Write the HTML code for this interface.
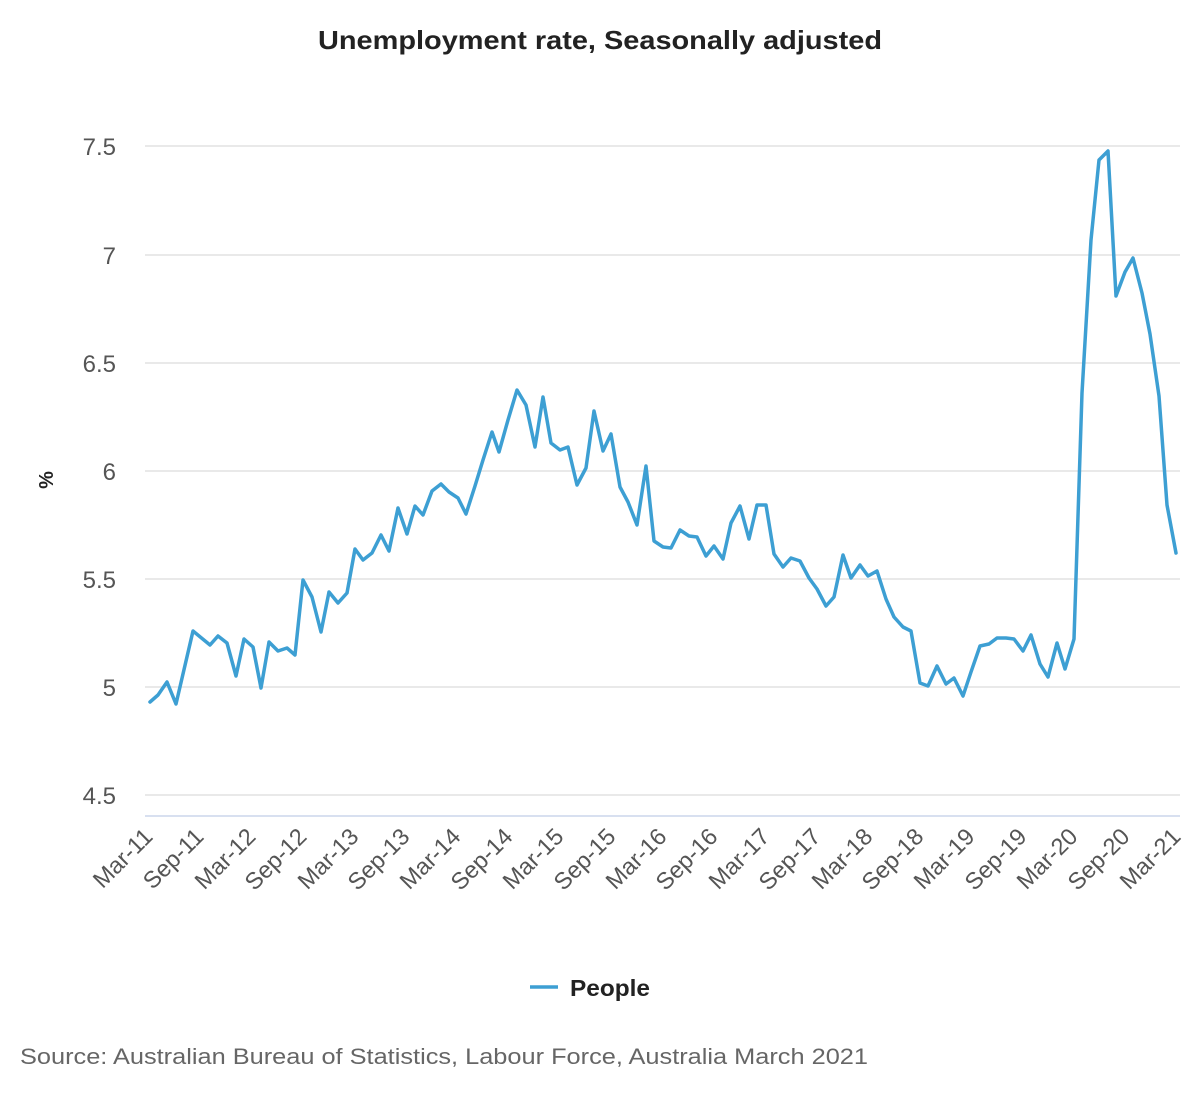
<!DOCTYPE html>
<html><head><meta charset="utf-8"><style>
body{margin:0;background:#fff;}
svg{display:block;font-family:"Liberation Sans",sans-serif;}
</style></head><body>
<svg width="1200" height="1100" viewBox="0 0 1200 1100">
<rect width="1200" height="1100" fill="#fff"/>
<text x="600" y="49" text-anchor="middle" font-size="26" font-weight="bold" fill="#222" textLength="564" lengthAdjust="spacingAndGlyphs">Unemployment rate, Seasonally adjusted</text>
<g stroke="#e2e2e2" stroke-width="1.5">
<line x1="145" y1="146" x2="1180" y2="146"/>
<line x1="145" y1="255" x2="1180" y2="255"/>
<line x1="145" y1="363" x2="1180" y2="363"/>
<line x1="145" y1="471" x2="1180" y2="471"/>
<line x1="145" y1="579" x2="1180" y2="579"/>
<line x1="145" y1="687" x2="1180" y2="687"/>
<line x1="145" y1="795" x2="1180" y2="795"/>
</g>
<line x1="145" y1="816" x2="1180" y2="816" stroke="#ccd6eb" stroke-width="1.5"/>
<g font-size="24" fill="#555" text-anchor="end">
<text x="116" y="155">7.5</text>
<text x="116" y="264">7</text>
<text x="116" y="372">6.5</text>
<text x="116" y="480">6</text>
<text x="116" y="588">5.5</text>
<text x="116" y="696">5</text>
<text x="116" y="804">4.5</text>
</g>
<text transform="translate(53,480) rotate(-90)" text-anchor="middle" font-size="20" font-weight="bold" fill="#222">%</text>
<g font-size="23.5" fill="#555" text-anchor="end">
<text transform="translate(154,838) rotate(-45)">Mar-11</text>
<text transform="translate(205,838) rotate(-45)">Sep-11</text>
<text transform="translate(257,838) rotate(-45)">Mar-12</text>
<text transform="translate(308,838) rotate(-45)">Sep-12</text>
<text transform="translate(360,838) rotate(-45)">Mar-13</text>
<text transform="translate(411,838) rotate(-45)">Sep-13</text>
<text transform="translate(462,838) rotate(-45)">Mar-14</text>
<text transform="translate(514,838) rotate(-45)">Sep-14</text>
<text transform="translate(565,838) rotate(-45)">Mar-15</text>
<text transform="translate(617,838) rotate(-45)">Sep-15</text>
<text transform="translate(668,838) rotate(-45)">Mar-16</text>
<text transform="translate(719,838) rotate(-45)">Sep-16</text>
<text transform="translate(771,838) rotate(-45)">Mar-17</text>
<text transform="translate(822,838) rotate(-45)">Sep-17</text>
<text transform="translate(874,838) rotate(-45)">Mar-18</text>
<text transform="translate(925,838) rotate(-45)">Sep-18</text>
<text transform="translate(976,838) rotate(-45)">Mar-19</text>
<text transform="translate(1028,838) rotate(-45)">Sep-19</text>
<text transform="translate(1079,838) rotate(-45)">Mar-20</text>
<text transform="translate(1131,838) rotate(-45)">Sep-20</text>
<text transform="translate(1182,838) rotate(-45)">Mar-21</text>
</g>
<polyline fill="none" stroke="#3d9fd3" stroke-width="3.5" stroke-linejoin="round" stroke-linecap="round" points="150,702 158,695 167,682 176,704 193,631 210,645 218,636 227,643 236,676 244,639 253,647 261,688 269,642 278,651 287,648 295,655 303,580 312,597 321,632 329,592 338,603 347,593 355,549 363,560 372,553 381,535 389,551 398,508 407,534 415,506 423,515 432,491 441,484 449,492 458,498 466,514 475,486 483,460 492,432 499,452 508,420 517,390 526,405 535,447 543,397 551,443 560,450 568,447 577,485 586,468 594,411 603,451 611,434 620,487 628,502 637,525 646,466 654,541 663,547 671,548 680,530 689,536 697,537 706,556 714,546 723,559 731,523 740,506 749,539 757,505 766,505 774,554 783,567 791,558 800,561 809,578 817,589 826,606 834,597 843,555 851,578 860,565 868,576 877,571 886,599 894,617 903,627 911,631 920,683 928,686 937,666 946,684 954,678 963,696 971,672 980,646 989,644 997,638 1006,638 1014,639 1023,651 1031,635 1040,664 1048,677 1057,643 1065,669 1074,639 1082,393 1091,240 1099,160 1108,151 1116,296 1125,272 1133,258 1142,293 1150,334 1159,396 1167,505 1176,553"/>
<line x1="530" y1="987" x2="558" y2="987" stroke="#3d9fd3" stroke-width="3.5"/>
<text x="570" y="996" font-size="23" font-weight="bold" fill="#222" textLength="80" lengthAdjust="spacingAndGlyphs">People</text>
<text x="20" y="1064" font-size="22" fill="#666" textLength="848" lengthAdjust="spacingAndGlyphs">Source: Australian Bureau of Statistics, Labour Force, Australia March 2021</text>
</svg>
</body></html>
